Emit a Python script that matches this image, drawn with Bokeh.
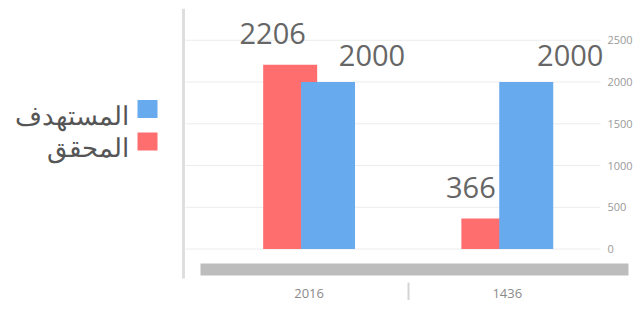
from bokeh.plotting import figure
from bokeh.models import Range1d, FixedTicker, ColumnDataSource
from bokeh.core.properties import value
from bokeh.transform import dodge
from bokeh.embed import file_html
from bokeh.resources import INLINE

# ---- data ----
categories = ["2016", "1436"]
achieved = [2206, 366]      # المحقق
target = [2000, 2000]       # المستهدف
series_names = ["المستهدف", "المحقق"]
y_ticks = [0, 500, 1000, 1500, 2000, 2500]

RED = "#ff6e6e"
BLUE = "#68aaee"
FONT = "Open Sans"

# page-pixel geometry helpers (for decorations only)
PX0, PXS = 308.6, 198.2   # page x of first category, px per category
PY0, PYS = 248.5, 0.0835  # page y of value 0, px per unit


def dx(px):
    return (px - PX0) / PXS


def dy(py):
    return (PY0 - py) / PYS


xs = list(range(len(categories)))
src = ColumnDataSource(dict(
    x=xs,
    achieved=achieved,
    target=target,
    achieved_lbl=[str(v) for v in achieved],
    target_lbl=[str(v) for v in target],
))

p = figure(frame_width=632, frame_height=274,
           min_border_left=8, min_border_top=8, min_border_right=0, min_border_bottom=0,
           x_range=Range1d(dx(8), dx(640)), y_range=Range1d(dy(282), dy(8)),
           y_axis_location=None, output_backend="svg", toolbar_location=None)
p.outline_line_color = None
p.grid.visible = False
p.background_fill_color = "white"

# gridlines
p.segment(x0=dx(185), x1=dx(600), y0=y_ticks, y1=y_ticks, line_color="#ececec", line_width=1)
# left border line
p.segment(x0=[dx(183)], x1=[dx(183)], y0=[dy(8)], y1=[dy(278)], line_color="#dedede", line_width=3)
# scrollbar
p.quad(left=[dx(200)], right=[dx(628)], bottom=[dy(275)], top=[dy(263)], fill_color="#bdbdbd", line_color=None)

W = 54 / PXS
OFF = 0.0955
p.vbar(x=dodge("x", -OFF, range=p.x_range), top="achieved", bottom=0, width=W, source=src,
       fill_color=RED, line_color=None)
p.vbar(x=dodge("x", OFF, range=p.x_range), top="target", bottom=0, width=W, source=src,
       fill_color=BLUE, line_color=None)

# data labels
p.text(x=dodge("x", -OFF, range=p.x_range), y="achieved", text="achieved_lbl", source=src,
       x_offset=-17.5, y_offset=-31, text_align="center", text_baseline="middle",
       text_font=value(FONT), text_font_size="29px", text_color="#666666")
p.text(x=dodge("x", OFF, range=p.x_range), y="target", text="target_lbl", source=src,
       x_offset=44, y_offset=-27, text_align="center", text_baseline="middle",
       text_font=value(FONT), text_font_size="29px", text_color="#666666")

# y tick labels (right side)
p.text(x=[dx(607)] * len(y_ticks), y=y_ticks, text=[str(t) for t in y_ticks],
       text_align="left", text_baseline="middle", text_font=value(FONT),
       text_font_size="11px", text_color="#9a9a9a")

# legend (RTL: label left of swatch)
p.rect(x=[dx(147)] * 2, y=[dy(108.5), dy(141)], width=20, height=18,
       width_units="screen", height_units="screen", fill_color=[BLUE, RED], line_color=None)
p.text(x=[dx(128)] * 2, y=[dy(114), dy(146)], text=series_names, text_align="right",
       text_baseline="alphabetic", text_font=value(FONT), text_font_size="26px",
       text_color="#555555")

# x axis
ax = p.xaxis[0]
ax.ticker = FixedTicker(ticks=xs, minor_ticks=[0.5])
ax.major_label_overrides = {i: c for i, c in zip(xs, categories)}
ax.axis_line_color = None
ax.major_tick_line_color = None
ax.major_tick_out = 0
ax.major_tick_in = 0
ax.minor_tick_line_color = "#d4d4d4"
ax.minor_tick_line_width = 2
ax.minor_tick_out = 20
ax.minor_tick_in = 0
ax.major_label_standoff = -14
ax.major_label_text_font = FONT
ax.major_label_text_font_size = "13px"
ax.major_label_text_color = "#8a8a8a"

open("out.html", "w").write(file_html(p, INLINE))
